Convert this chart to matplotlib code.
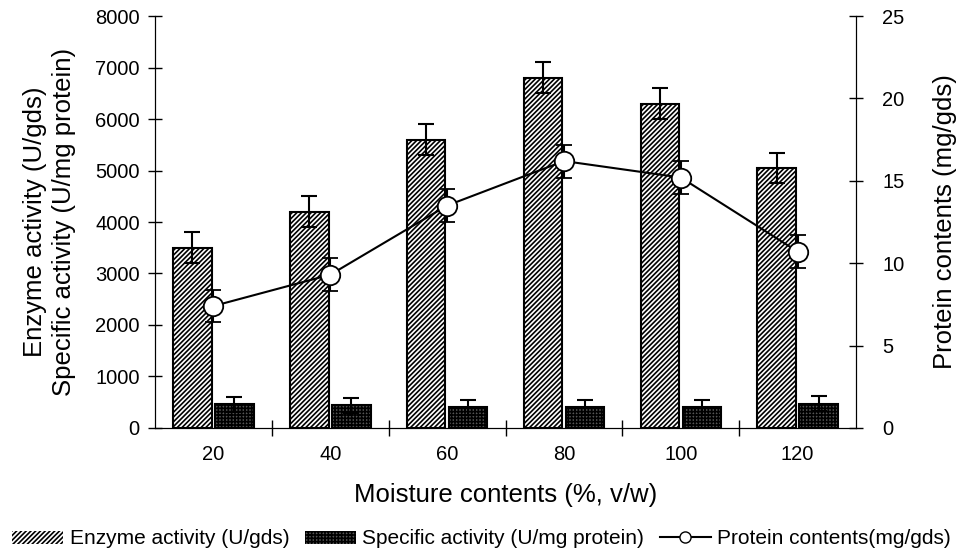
import numpy as np
import matplotlib.pyplot as plt
from matplotlib.lines import Line2D
from matplotlib.patches import Patch

plt.rcParams['font.family'] = ['Liberation Sans', 'DejaVu Sans']
plt.rcParams['hatch.linewidth'] = 1.2

moisture = ['20', '40', '60', '80', '100', '120']
enzyme = [3500, 4200, 5600, 6800, 6300, 5050]
enzyme_err = [300, 300, 300, 300, 300, 300]
specific = [460, 440, 400, 400, 400, 470]
specific_err = [150, 150, 150, 150, 150, 150]
protein = [7.4, 9.3, 13.5, 16.2, 15.2, 10.7]
protein_err = [1.0, 1.0, 1.0, 1.0, 1.0, 1.0]


def main():
    fig = plt.figure(figsize=(9.63, 5.55), dpi=100)
    ax = fig.add_axes([0.161, 0.229, 0.728, 0.742])
    x = np.arange(len(moisture))
    w = 0.33
    ax.bar(x - w / 2 - 0.015, enzyme, w, color='white', edgecolor='black',
           linewidth=1.5, hatch='///////', zorder=2)
    ax.errorbar(x - w / 2 - 0.015, enzyme, yerr=enzyme_err, fmt='none',
                ecolor='black', elinewidth=1.5, capsize=6, capthick=1.5, zorder=3)
    ax.bar(x + w / 2 + 0.015, specific, w, color='#555555', edgecolor='black',
           linewidth=1.5, hatch='+++++', zorder=2)
    ax.errorbar(x + w / 2 + 0.015, specific, yerr=specific_err, fmt='none',
                ecolor='black', elinewidth=1.5, capsize=6, capthick=1.5, zorder=3)

    ax.set_xlim(-0.5, len(moisture) - 0.5)
    ax.set_ylim(0, 8000)
    ax.set_yticks(range(0, 8001, 1000))
    ax.set_xticks(x)
    ax.set_xticklabels(moisture)
    ax.set_xticks(np.arange(0.5, len(moisture) - 0.5, 1), minor=True)
    ax.tick_params(axis='x', which='major', length=0, labelsize=14.5, pad=12)
    ax.tick_params(axis='x', which='minor', direction='inout', length=12, width=1)
    ax.tick_params(axis='y', direction='inout', length=10, width=1, labelsize=14.5, pad=6)
    ax.spines['top'].set_visible(False)
    ax.set_xlabel('Moisture contents (%, v/w)', fontsize=18.5, labelpad=14)
    ax.set_ylabel('Enzyme activity (U/gds)\nSpecific activity (U/mg protein)',
                  fontsize=18.5, labelpad=14, linespacing=1.25)

    ax2 = ax.twinx()
    ax2.errorbar(x, protein, yerr=protein_err, color='black', linewidth=1.5,
                 marker='o', markersize=14, markerfacecolor='white',
                 markeredgecolor='black', markeredgewidth=1.3,
                 ecolor='black', elinewidth=1.5, capsize=6, capthick=1.5, zorder=4)
    ax2.set_ylim(0, 25)
    ax2.set_yticks(range(0, 26, 5))
    ax2.tick_params(axis='y', direction='inout', length=10, width=1, labelsize=14.5, pad=14)
    ax2.spines['top'].set_visible(False)
    ax2.set_ylabel('Protein contents (mg/gds)', fontsize=18.5, labelpad=20)

    handles = [
        Patch(facecolor='white', edgecolor='black', hatch='///////', linewidth=0),
        Patch(facecolor='#555555', edgecolor='black', hatch='+++++', linewidth=0),
        Line2D([], [], color='black', linewidth=1.5, marker='o', markersize=8,
               markerfacecolor='white', markeredgecolor='black'),
    ]
    labels = ['Enzyme activity (U/gds)', 'Specific activity (U/mg protein)',
              'Protein contents(mg/gds)']
    fig.legend(handles, labels, loc='lower center', bbox_to_anchor=(0.5, -0.022),
               ncol=3, frameon=False, fontsize=15, handlelength=2.45,
               handleheight=0.6, handletextpad=0.3, columnspacing=0.75)

    fig.savefig('out.png', dpi=100)


if __name__ == '__main__':
    main()
